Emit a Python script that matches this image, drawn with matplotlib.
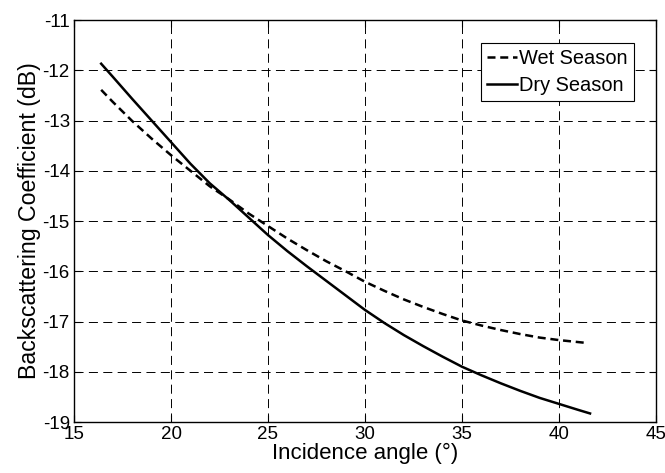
import matplotlib
matplotlib.use("Agg")
import matplotlib.pyplot as plt

plt.rcParams['font.family'] = ['Liberation Sans', 'DejaVu Sans']

angle_dry = [16.4, 17, 18, 19, 20, 21, 22, 23, 24, 25, 26, 27, 28, 29, 30,
             31, 32, 33, 34, 35, 36, 37, 38, 39, 40, 41, 41.6]
sigma_dry = [-11.87, -12.13, -12.57, -13.00, -13.43, -13.86, -14.25, -14.58,
             -14.93, -15.28, -15.60, -15.90, -16.19, -16.48, -16.77, -17.03,
             -17.27, -17.49, -17.70, -17.90, -18.07, -18.23, -18.38, -18.52,
             -18.64, -18.76, -18.83]

angle_wet = [16.4, 17, 18, 19, 20, 21, 22, 23, 24, 25, 26, 27, 28, 29, 30,
             31, 32, 33, 34, 35, 36, 37, 38, 39, 40, 41, 41.5]
sigma_wet = [-12.39, -12.63, -13.01, -13.36, -13.69, -14.00, -14.31, -14.57,
             -14.85, -15.10, -15.35, -15.58, -15.80, -16.00, -16.21, -16.39,
             -16.56, -16.71, -16.85, -16.98, -17.08, -17.17, -17.25, -17.32,
             -17.37, -17.41, -17.43]

xticks = [15, 20, 25, 30, 35, 40, 45]
yticks = [-19, -18, -17, -16, -15, -14, -13, -12, -11]

fig = plt.figure(figsize=(6.65, 4.73), dpi=100)
ax = fig.add_axes([74/665, 1-422/473, (656-74)/665, (422-20)/473])

ax.plot(angle_wet, sigma_wet, color='black', lw=1.8, linestyle=(0, (3.2, 1.9)),
        label='Wet Season')
ax.plot(angle_dry, sigma_dry, color='black', lw=1.8, linestyle='-',
        label='Dry Season')

ax.set_xlim(15, 45)
ax.set_ylim(-19, -11)
ax.set_xticks(xticks)
ax.set_yticks(yticks)
ax.set_xticklabels([str(t) for t in xticks])
ax.set_yticklabels([str(t) for t in yticks])

ax.grid(True, color='black', lw=0.7, linestyle=(0, (9.3, 5.5)))
ax.tick_params(direction='in', length=5, width=0.8, top=True, right=True,
               labelsize=13.5, pad=3, colors='black')
for s in ax.spines.values():
    s.set_linewidth(1.0)
    s.set_color('black')

ax.set_xlabel('Incidence angle (°)', fontsize=16, labelpad=0)
ax.set_ylabel('Backscattering Coefficient (dB)', fontsize=16.7, labelpad=1)

leg = ax.legend(loc='upper right', bbox_to_anchor=(0.962, 0.943), fontsize=14.4,
                handlelength=1.5, handletextpad=0.1, borderpad=0.3,
                labelspacing=0.4, borderaxespad=0.0, fancybox=False,
                framealpha=1.0, edgecolor='black')
leg.get_frame().set_linewidth(0.8)

fig.savefig('out.png', dpi=100)
